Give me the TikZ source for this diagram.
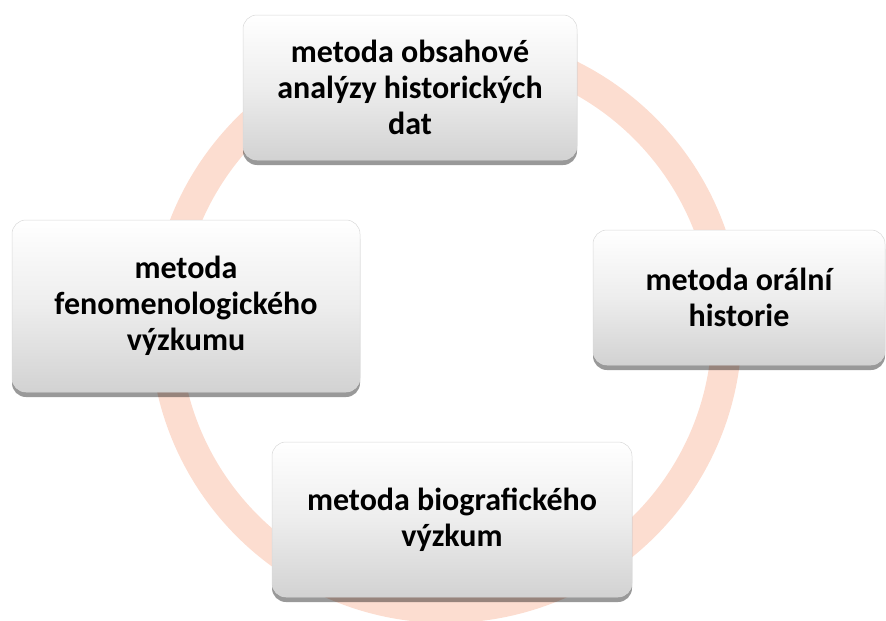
\documentclass[tikz,border=0pt]{standalone}
\usepackage{fontspec}
\setmainfont{Carlito}
\usetikzlibrary{shadows}
\definecolor{ringc}{RGB}{252,221,208}
\definecolor{boxbot}{RGB}{210,210,210}
\begin{document}
\begin{tikzpicture}[x=1pt,y=-1pt,
  mbox/.style={rounded corners=14pt, top color=white, bottom color=boxbot,
    middle color=white!93!black,
    draw=gray!30, line width=0.5pt, inner sep=0pt,
    drop shadow={shadow xshift=0pt,shadow yshift=-5pt,opacity=0.4,fill=black}},
  lbl/.style={font=\fontsize{32}{36}\selectfont\bfseries, align=center}]
\useasboundingbox (0,0) rectangle (886,621);
\draw[ringc, line width=30pt] (446,327) circle (281pt);
\node[mbox, minimum width=334pt, minimum height=145pt] (top) at (410,87.5) {};
\node[lbl] (toptext) at (top.center) {metoda obsahové\\analýzy historických\\dat};
\node[mbox, minimum width=292pt, minimum height=135pt] (right) at (739,297.5) {};
\node[lbl] (righttext) at (right.center) {metoda orální\\historie};
\node[mbox, minimum width=348pt, minimum height=172pt] (left) at (186,306) {};
\node[lbl] (lefttext) at (left.center) {metoda\\fenomenologického\\výzkumu};
\node[mbox, minimum width=360pt, minimum height=155pt] (bottom) at (452,519.5) {};
\node[lbl] (bottomtext) at (bottom.center) {metoda biografického\\výzkum};
\end{tikzpicture}
\end{document}
